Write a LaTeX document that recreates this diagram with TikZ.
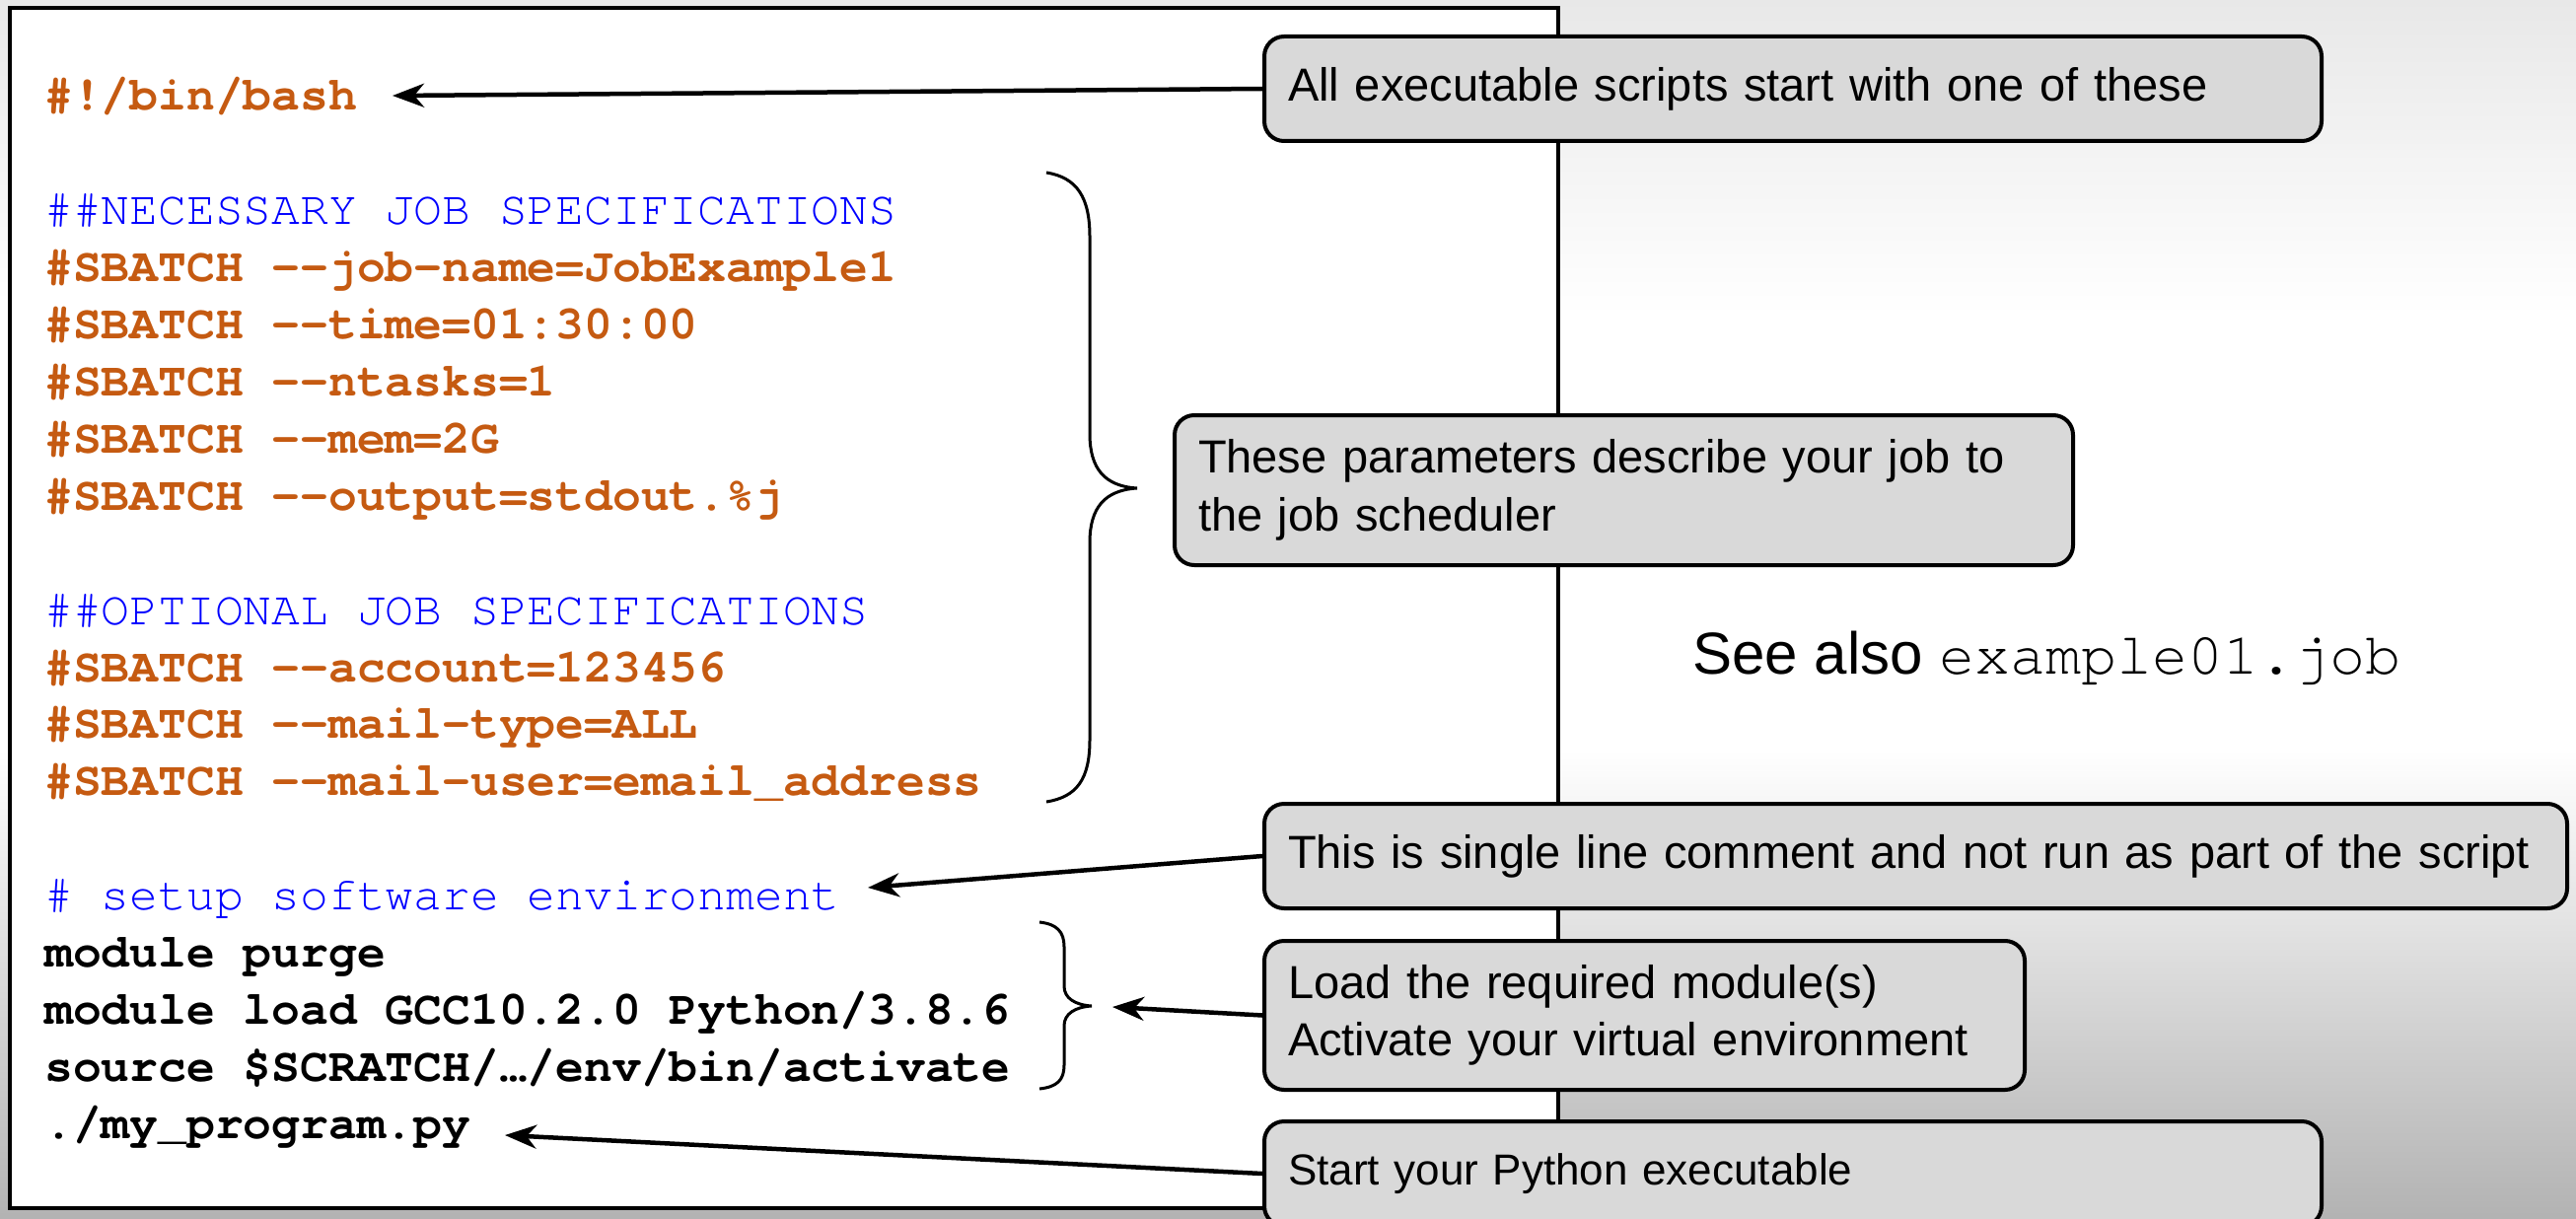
\documentclass[tikz,border=0pt]{standalone}
\usepackage{fontspec}
\setmainfont{Liberation Sans}
\newfontfamily\codefont{TeX Gyre Cursor}[Ligatures=TeXOff]
\usetikzlibrary{arrows.meta}
\definecolor{codeorange}{HTML}{C55A11}
\definecolor{codeblue}{HTML}{0000FF}
\definecolor{calloutfill}{HTML}{D9D9D9}
\begin{document}
\begin{tikzpicture}[x=0.5pt,y=-0.5pt,
  codeplain/.style={anchor=base west, inner sep=0pt, font=\codefont\fontsize{24pt}{29pt}\selectfont},
  codecomment/.style={codeplain, text=codeblue},
  codesb/.style={anchor=base west, inner sep=0pt, text=codeorange, font=\codefont\bfseries\fontsize{24pt}{29pt}\selectfont},
  codebold/.style={anchor=base west, inner sep=0pt, text=black, font=\codefont\bfseries\fontsize{24pt}{29pt}\selectfont},
  callout/.style={draw=black, line width=2pt, fill=calloutfill, rounded corners=10pt,
    anchor=north west, inner xsep=12pt, inner ysep=0pt, align=left,
    font=\fontsize{23.5pt}{29.25pt}\selectfont},
  pointer/.style={draw=black, line width=2.25pt, -{Stealth[length=16pt,width=12pt,inset=5pt]}},
  bracepath/.style={draw=black, line width=1.5pt},
]
\useasboundingbox (0,0) rectangle (2612,1236);
\clip (0,0) rectangle (2612,1236);
% background
\fill[white] (0,0) rectangle (2612,1236);
\shade[top color=black!9, bottom color=white] (0,0) rectangle (2612,320);
\shade[top color=white, bottom color=black!30] (0,760) rectangle (2612,1236);
% script box
\draw[line width=1.75pt, fill=white] (10,8) rectangle (1580,1225);

% code lines
\node[codesb] (l0) at (45,112.0) {\#!/bin/bash};
\node[codecomment] (l2) at (45,227.8) {\#\#NECESSARY JOB SPECIFICATIONS};
\node[codesb] (l3) at (45,285.7) {\#SBATCH --job-name=JobExample1};
\node[codesb] (l4) at (45,343.6) {\#SBATCH --time=01:30:00};
\node[codesb] (l5) at (45,401.5) {\#SBATCH --ntasks=1};
\node[codesb] (l6) at (45,459.4) {\#SBATCH --mem=2G};
\node[codesb] (l7) at (45,517.3) {\#SBATCH --output=stdout.\%j};
\node[codecomment] (l9) at (45,633.1) {\#\#OPTIONAL JOB SPECIFICATIONS};
\node[codesb] (l10) at (45,691.0) {\#SBATCH --account=123456};
\node[codesb] (l11) at (45,748.9) {\#SBATCH --mail-type=ALL};
\node[codesb] (l12) at (45,806.8) {\#SBATCH --mail-user=email\_address};
\node[codecomment] (l14) at (45,922.6) {\# setup software environment};
\node[codebold] (l15) at (45,980.5) {module purge};
\node[codebold] (l16) at (45,1038.4) {module load GCC10.2.0 Python/3.8.6};
\node[codebold] (l17) at (45,1096.3) {source \$SCRATCH/…/env/bin/activate};
\node[codebold] (l18) at (45,1154.2) {./my\_program.py};

% braces
\path[bracepath] (1061,175) .. controls (1092,180) and (1105,200) .. (1105,240)
  -- (1105,440) .. controls (1105,475) and (1120,493) .. (1153,495)
  .. controls (1120,497) and (1105,515) .. (1105,550)
  -- (1105,750) .. controls (1105,790) and (1092,808) .. (1061,813);
\path[bracepath] (1054,935) .. controls (1072,937) and (1079,945) .. (1079,960)
  -- (1079,1000) .. controls (1079,1012) and (1090,1019) .. (1107,1020)
  .. controls (1090,1021) and (1079,1028) .. (1079,1040)
  -- (1079,1080) .. controls (1079,1095) and (1072,1102) .. (1054,1104);

% see also
\node[anchor=base west, inner sep=0pt, font=\fontsize{30pt}{36pt}\selectfont] (see) at (1716,683)
  {See also {\codefont example01.job}};

% callouts
\node[callout, minimum width=536pt, minimum height=53pt, text width=512pt] (c1) at (1280,35)
  {All executable scripts start with one of these};
\node[callout, minimum width=455.5pt, minimum height=76pt, text width=431.5pt] (c2) at (1189,419)
  {These parameters describe your job to\\the job scheduler};
\node[callout, minimum width=660.5pt, minimum height=53pt, text width=636.5pt] (c3) at (1280,813)
  {This is single line comment and not run as part of the script};
\node[callout, minimum width=385.5pt, minimum height=75.5pt, text width=361.5pt] (c4) at (1280,952)
  {Load the required module(s)\\Activate your virtual environment};
\node[callout, minimum width=536pt, minimum height=53pt, text width=512pt,
  font=\fontsize{22pt}{29.25pt}\selectfont] (c5) at (1280,1135)
  {Start your Python executable};

% pointer ends
\coordinate (t1) at (398,97);
\coordinate (t3) at (880,900);
\coordinate (t4) at (1128,1021);
\coordinate (t5) at (512,1151);
\draw[pointer] (c1.west) -- (t1);
\draw[pointer] (c3.west) -- (t3);
\draw[pointer] (c4.west) -- (t4);
\draw[pointer] (c5.west) -- (t5);
\end{tikzpicture}
\end{document}
